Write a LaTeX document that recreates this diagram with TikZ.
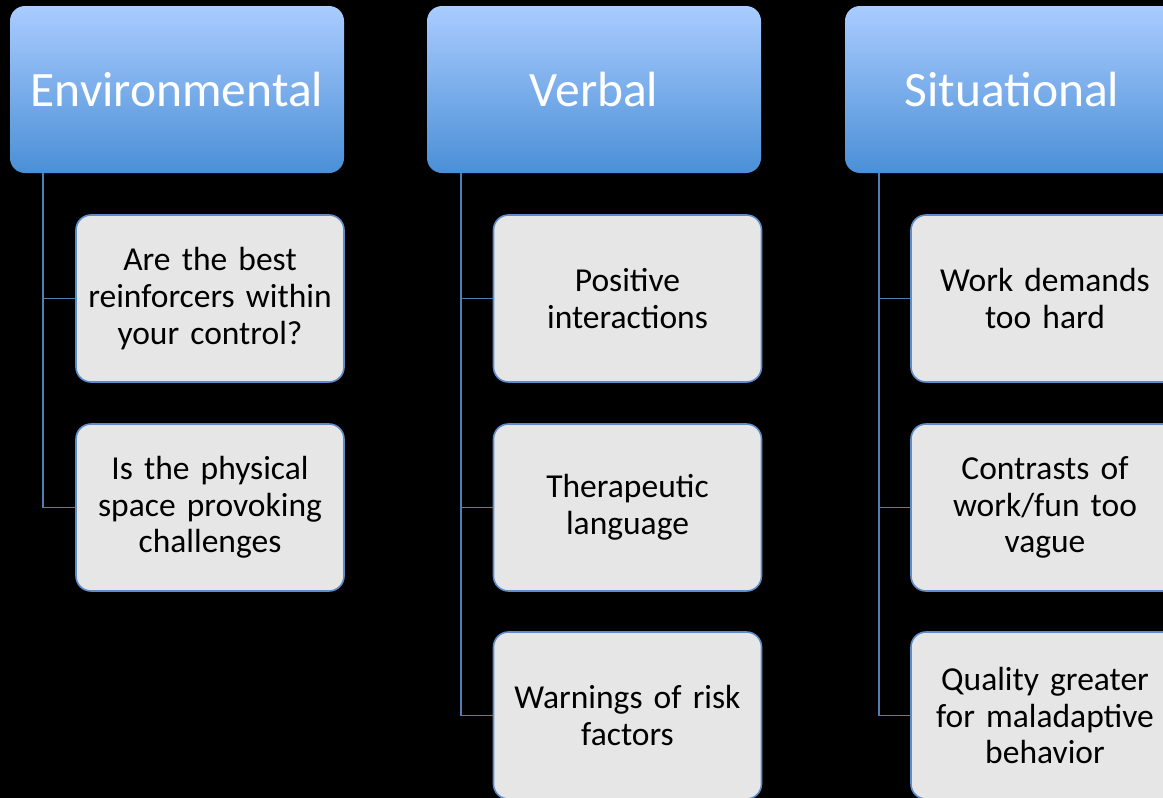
\documentclass[tikz,border=0pt]{standalone}
\usepackage{fontspec}
\setmainfont{Carlito}
\definecolor{hdtop}{RGB}{170,204,255}
\definecolor{hdbot}{RGB}{74,143,214}
\definecolor{itemfill}{RGB}{230,230,230}
\definecolor{itemline}{RGB}{94,140,200}
\definecolor{linkline}{RGB}{82,126,182}
\begin{document}
\begin{tikzpicture}[x=1pt,y=-1pt,
  header/.style={rectangle, rounded corners=15pt, top color=hdtop, bottom color=hdbot,
    draw=none, minimum width=334pt, minimum height=167pt, inner sep=0pt,
    text=white, font=\fontsize{49.5}{55}\selectfont},
  item/.style={rectangle, rounded corners=15pt, fill=itemfill, draw=itemline, line width=1.6pt,
    minimum width=268pt, minimum height=167pt, inner sep=0pt, text width=262pt, align=center,
    text=black, font=\fontsize{33.5}{36.6}\selectfont},
  link/.style={draw=linkline, line width=1.6pt}]
\useasboundingbox[fill=black] (0,0) rectangle (1163,798);

% column headers
\node[header] (h1) at (177,89.5) {Environmental};
\node[header] (h2) at (594,89.5) {Verbal};
\node[header] (h3) at (1012,89.5) {Situational};

% Environmental items
\node[item] (e1) at (210,298.5) {Are the best\\reinforcers within\\your control?};
\node[item] (e2) at (210,507.5) {Is the physical\\space provoking\\challenges};

% Verbal items
\node[item] (v1) at (627.5,298.5) {Positive\\interactions};
\node[item] (v2) at (627.5,507.5) {Therapeutic\\language};
\node[item] (v3) at (627.5,715.5) {Warnings of risk\\factors};

% Situational items
\node[item] (s1) at (1045,298.5) {Work demands\\too hard};
\node[item] (s2) at (1045,507.5) {Contrasts of\\work/fun too\\vague};
\node[item] (s3) at (1045,715.5) {Quality greater\\for maladaptive\\behavior};

% connectors from each header down its column
\draw[link] (h1.south west) ++(33,0) |- (e1.west);
\draw[link] (h1.south west) ++(33,0) |- (e2.west);
\draw[link] (h2.south west) ++(34,0) |- (v1.west);
\draw[link] (h2.south west) ++(34,0) |- (v2.west);
\draw[link] (h2.south west) ++(34,0) |- (v3.west);
\draw[link] (h3.south west) ++(34,0) |- (s1.west);
\draw[link] (h3.south west) ++(34,0) |- (s2.west);
\draw[link] (h3.south west) ++(34,0) |- (s3.west);
\end{tikzpicture}
\end{document}
